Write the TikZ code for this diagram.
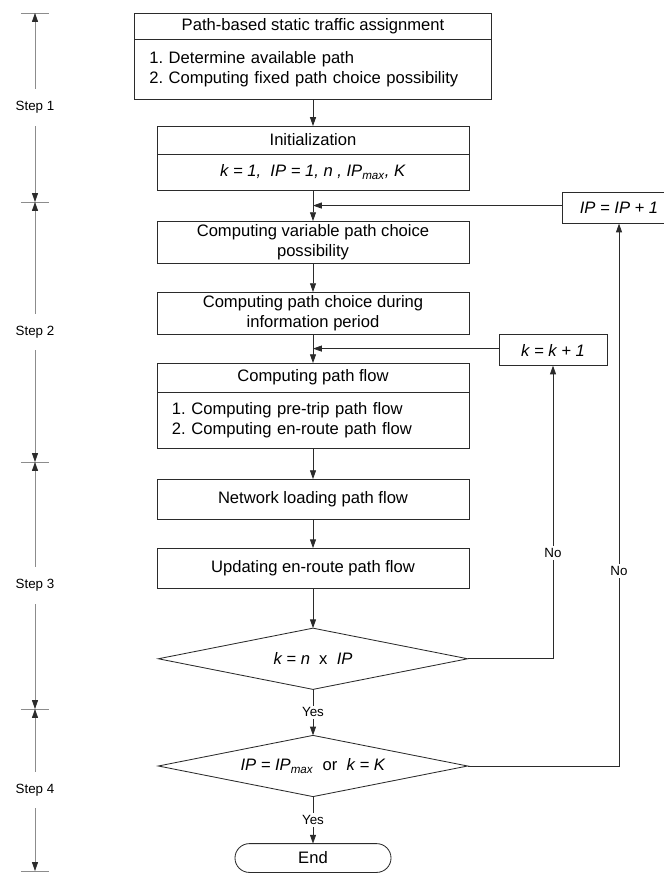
\documentclass[tikz,border=0pt]{standalone}
\usepackage{fontspec}
\setmainfont{Liberation Sans}
\usetikzlibrary{positioning,shapes.geometric,arrows.meta,calc}
\definecolor{ink}{HTML}{2B2B2B}
\definecolor{rule}{HTML}{8C8C8C}
\frenchspacing

\begin{document}
\begin{tikzpicture}[x=0.025cm,y=0.025cm,node distance=0.725cm,
    font=\fontsize{11.8}{14.2}\selectfont,
    >={Triangle[length=2.2mm,width=1.5mm]},
    box/.style={draw=ink,line width=0.6pt,minimum width=7.8cm,minimum height=1cm,inner sep=0pt,outer sep=0pt,align=center},
    listbox/.style={box,inner xsep=0.375cm,text width=7.05cm,align=left},
    choice/.style={diamond,aspect=5,draw=ink,line width=0.6pt,minimum width=7.73cm,minimum height=1.53cm,inner sep=0pt,outer sep=0pt},
    endbox/.style={draw=ink,line width=0.6pt,rounded corners=0.36cm,minimum width=3.9cm,minimum height=0.72cm,inner sep=0pt,outer sep=0pt},
    loopbox/.style={draw=ink,line width=0.6pt,minimum width=2.7cm,minimum height=0.78cm,inner sep=0pt,outer sep=0pt,font=\fontsize{11.8}{14}\selectfont\itshape},
    flow/.style={->,draw=ink,line width=0.6pt},
    answer/.style={fill=white,inner sep=1.5pt,font=\fontsize{9.5}{11}\selectfont},
    steplabel/.style={fill=white,inner xsep=1pt,inner ysep=0.3cm,font=\fontsize{9.5}{11}\selectfont},
    span/.style={{Triangle[length=2.2mm,width=1.5mm,color=ink]}-{Triangle[length=2.2mm,width=1.5mm,color=ink]},draw=rule,line width=0.45pt},
    tick/.style={draw=rule,line width=0.5pt}]
    \useasboundingbox (0,0) rectangle (663,-873);
    % main column
    \node[box,minimum width=8.93cm,minimum height=0.65cm,anchor=north] (assign) at (313,-13) {Path-based static traffic assignment};
    \node[listbox,text width=8.18cm,minimum height=1.5cm,below=0pt of assign] (assignlist) {1. Determine available path\\2. Computing fixed path choice possibility};
    \node[box,minimum height=0.7cm,below=0.675cm of assignlist] (init) {Initialization};
    \node[box,minimum height=0.9cm,below=0pt of init] (initval) {\textit{k = 1,~ IP = 1, n , IP\textsubscript{max}, K}};
    \node[box,minimum height=1.05cm,below=0.775cm of initval] (varchoice) {Computing variable path choice\\possibility};
    \node[box,minimum height=1.05cm,below=of varchoice] (infochoice) {Computing path choice during\\information period};
    \node[box,minimum height=0.725cm,below=of infochoice] (pathflow) {Computing path flow};
    \node[listbox,minimum height=1.4cm,below=0pt of pathflow] (pathflowlist) {1. Computing pre-trip path flow\\2. Computing en-route path flow};
    \node[box,below=0.775cm of pathflowlist] (loading) {Network loading path flow};
    \node[box,below=of loading] (update) {Updating en-route path flow};
    \node[choice,below=1cm of update] (checkk) {\textit{k = n}~~x~~\textit{IP}};
    \node[choice,below=1.15cm of checkk] (checkip) {\textit{IP = IP\textsubscript{max}}~~or~~\textit{k = K}};
    \node[endbox,below=1.175cm of checkip] (stop) {End};
    % loop boxes
    \coordinate (ipjoin) at ($(initval.south)!0.5!(varchoice.north)$);
    \coordinate (kjoin) at ($(infochoice.south)!0.5!(pathflow.north)$);
    \node[loopbox,minimum width=2.85cm,anchor=west] (ipbox) at (562,-208) {IP = IP + 1};
    \node[loopbox] (kbox) at (553,-350) {k = k + 1};
    \draw[flow] (assignlist) -- (init);
    \draw[flow] (initval) -- (varchoice);
    \draw[flow] (ipbox.west |- ipjoin) -- (ipjoin);
    \draw[flow] (varchoice) -- (infochoice);
    \draw[flow] (infochoice) -- (pathflow);
    \draw[flow] (kbox.west |- kjoin) -- (kjoin);
    \draw[flow] (pathflowlist) -- (loading);
    \draw[flow] (loading) -- (update);
    \draw[flow] (update) -- (checkk);
    \draw[flow] (checkk) -- node[answer] {Yes} (checkip);
    \draw[flow] (checkip) -- node[answer] {Yes} (stop);
    \draw[flow] (checkk.east) -| node[answer,pos=0.68] {No} (kbox.south);
    \draw[flow] (checkip.east) -| node[answer,pos=0.68] {No} (ipbox.south);
    % step column
    \coordinate (s0) at (35,-13);
    \coordinate (s1) at (35,-202);
    \coordinate (s2) at (35,-462);
    \coordinate (s3) at (35,-709);
    \coordinate (s4) at (35,-871);
    \foreach \s in {s0,s1,s2,s3,s4}
      \draw[tick] ([xshift=-0.35cm]\s) -- ([xshift=0.35cm]\s);
    \draw[span] (s0) -- node[steplabel] {Step 1} (s1);
    \draw[span] (s1) -- node[steplabel] {Step 2} (s2);
    \draw[span] (s2) -- node[steplabel] {Step 3} (s3);
    \draw[span] (s3) -- node[steplabel] {Step 4} (s4);
  \end{tikzpicture}
\end{document}
